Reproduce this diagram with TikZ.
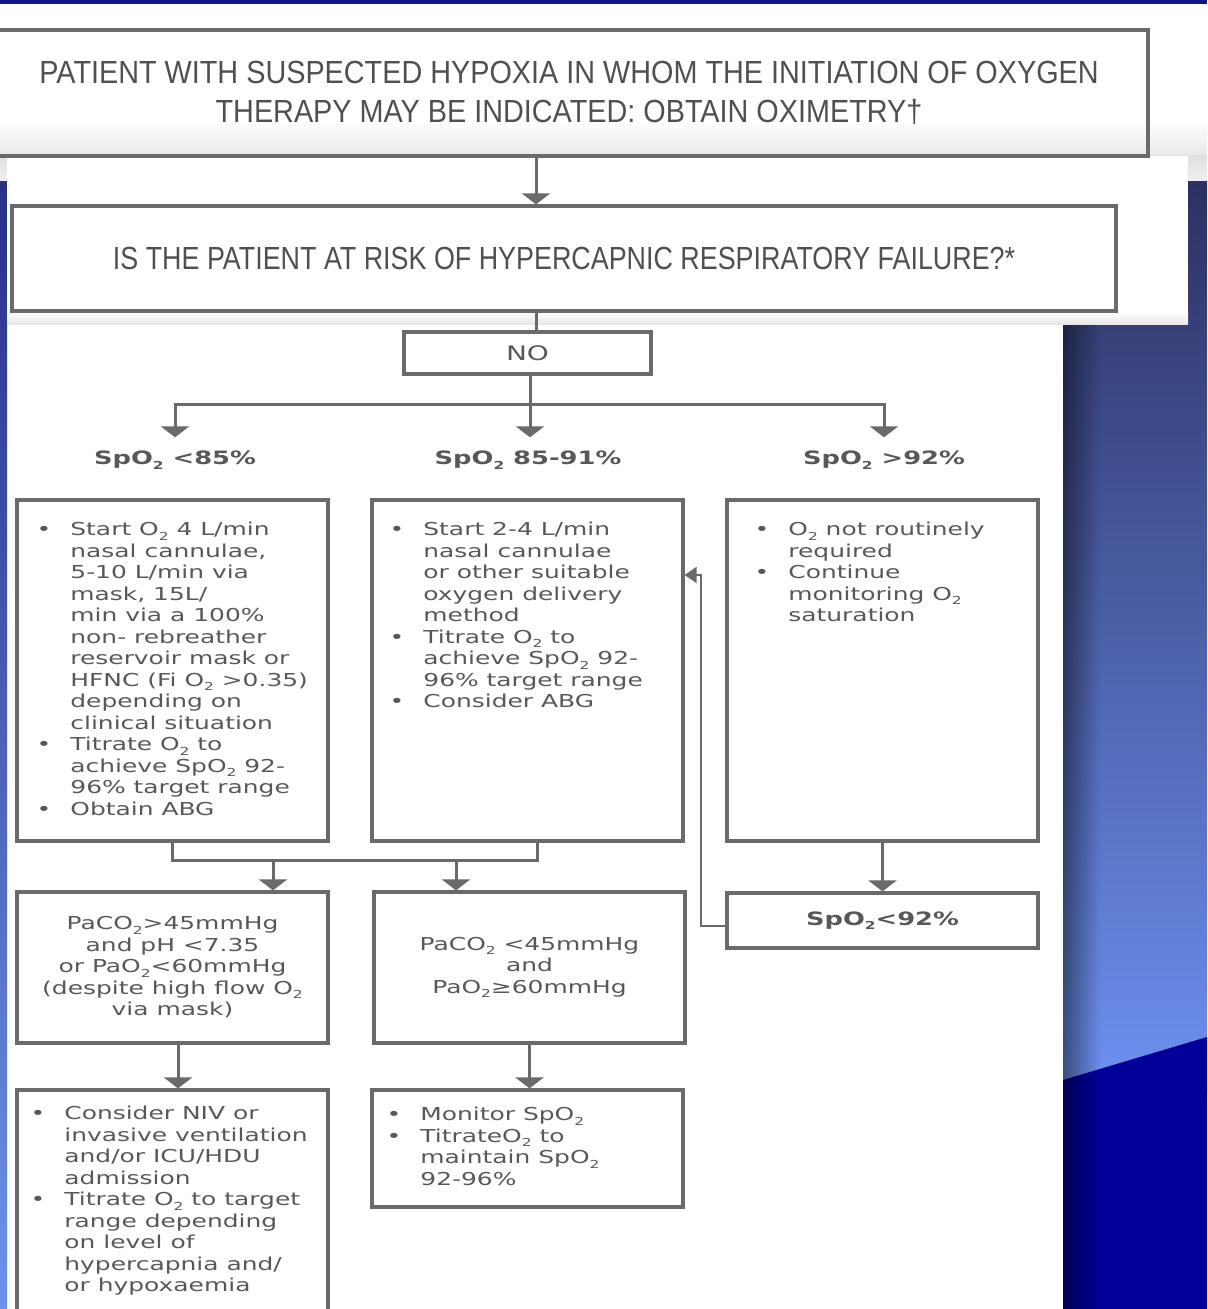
\documentclass[tikz,border=0pt]{standalone}
\usepackage{fontspec}
\setmainfont{DejaVu Sans}[FakeStretch=1.4]
\newfontfamily\titlefont{Liberation Sans}[FakeStretch=0.9]
\newfontfamily\askfont{Liberation Sans}[FakeStretch=0.84]
\usepackage{xcolor}
\usetikzlibrary{arrows.meta,fadings}

\definecolor{linegray}{HTML}{6A6A6A}
\definecolor{textgray}{HTML}{585858}
\definecolor{titlegray}{HTML}{505050}
\definecolor{barblue}{HTML}{15158A}
\definecolor{stripA}{HTML}{283088}
\definecolor{stripB}{HTML}{6E92EC}
\definecolor{rightA}{HTML}{2C3162}
\definecolor{rightM}{HTML}{4659BC}
\definecolor{rightB}{HTML}{6D90F0}
\definecolor{deepblue}{HTML}{000098}

\newcommand{\boxfont}{\fontsize{8.9}{10.75}\selectfont}
\newcommand{\lblfont}{\fontsize{9.2}{11}\selectfont\bfseries}
\newcommand{\headfont}{\titlefont\fontsize{16}{19.5}\selectfont}
\newcommand{\askheadfont}{\askfont\fontsize{16}{19.5}\selectfont}
\newcommand{\bul}{\llap{\textbullet\hspace{9.5pt}}}
\newcommand{\two}{\raisebox{-0.45ex}{\fontsize{5.5}{6}\selectfont 2}}

\begin{document}
\begin{tikzpicture}[x=0.5pt,y=-0.5pt,
    box/.style={draw=linegray, line width=1.6pt, inner sep=0pt, align=center, text=textgray, font=\boxfont},
    txt/.style={inner sep=0pt, align=left, text=textgray, font=\boxfont},
    lbl/.style={inner sep=0pt, outer ysep=7pt, text=textgray, font=\lblfont},
    line/.style={draw=linegray, line width=1.5pt},
    arr/.style={line, -{Triangle[width=14pt,length=5.5pt]}},
    back/.style={draw=linegray, line width=1pt, -{Triangle[width=8pt,length=6pt]}}]

            % slide background
            \useasboundingbox (0,0) rectangle (1207,1309);
            \clip (0,0) rectangle (1207,1309);
            \fill[white] (0,0) rectangle (1207,1309);
            \fill[barblue] (0,0) rectangle (1207,4);
            \shade[top color=white, bottom color=black!9] (0,120) rectangle (1207,156);
            \shade[top color=black!12, bottom color=black!6] (0,156) rectangle (1207,182);
            \shade[top color=stripA, bottom color=stripB] (0,182) rectangle (7,1309);
            \shade[top color=rightA, middle color=rightM, bottom color=rightB] (1063,182) rectangle (1207,1090);
            \fill[deepblue] (1063,1080) -- (1207,1037) -- (1207,1309) -- (1063,1309) -- cycle;
            \fill[black, fill opacity=0.45, path fading=east] (1063,182) rectangle (1100,1309);
            \fill[white] (7,156) rectangle (1188,312);
            \shade[top color=white, bottom color=black!10] (7,312) rectangle (1188,325);

            % boxes
            \draw (569,93) node[box, minimum width=579pt, minimum height=63pt, font=\headfont, text=titlegray] (top)
                {PATIENT WITH SUSPECTED HYPOXIA IN WHOM THE INITIATION OF OXYGEN\\THERAPY MAY BE INDICATED: OBTAIN OXIMETRY†};
            \draw (564,258.5) node[box, minimum width=552pt, minimum height=52.5pt, font=\askheadfont, text=titlegray] (q)
                {IS THE PATIENT AT RISK OF HYPERCAPNIC RESPIRATORY FAILURE?*};
            \draw (527.5,353) node[box, minimum width=123.5pt, minimum height=21pt, font=\fontsize{10}{12}\selectfont] (no) {NO};

            \draw (175,465) node[lbl, anchor=base] (l1) {SpO\two{} <85\%};
            \draw (528,465) node[lbl, anchor=base] (l2) {SpO\two{} 85-91\%};
            \draw (884,465) node[lbl, anchor=base] (l3) {SpO\two{} >92\%};

            \draw (172.5,670.5) node[box, minimum width=155.5pt, minimum height=170.5pt] (a1) {};
            \draw (527.5,670.5) node[box, minimum width=155.5pt, minimum height=170.5pt] (b1) {};
            \draw (882.5,670.5) node[box, minimum width=155.5pt, minimum height=170.5pt] (c1) {};

            \draw (70,522) node[txt, anchor=north west] (a1t)
                {\bul Start O\two{} 4 L/min\\nasal cannulae,\\5-10 L/min via\\mask, 15L/\\min via a 100\%\\non- rebreather\\reservoir mask or\\HFNC (Fi O\two{} >0.35)\\depending on\\clinical situation\\\bul Titrate O\two{} to\\achieve SpO\two{} 92-\\96\% target range\\\bul Obtain ABG};
            \draw (423,522) node[txt, anchor=north west] (b1t)
                {\bul Start 2-4 L/min\\nasal cannulae\\or other suitable\\oxygen delivery\\method\\\bul Titrate O\two{} to\\achieve SpO\two{} 92-\\96\% target range\\\bul Consider ABG};
            \draw (788,522) node[txt, anchor=north west] (c1t)
                {\bul O\two{} not routinely\\required\\\bul Continue\\monitoring O\two{}\\saturation};

            \draw (172.5,967.5) node[box, minimum width=155.5pt, minimum height=75.5pt] (a2)
                {PaCO\two{}>45mmHg\\and pH <7.35\\or PaO\two{}<60mmHg\\(despite high flow O\two{}\\via mask)};
            \draw (529.5,967.5) node[box, minimum width=155.5pt, minimum height=75.5pt] (b2)
                {PaCO\two{} <45mmHg\\and\\PaO\two{}≥60mmHg};
            \draw (882.5,920.5) node[box, minimum width=155.5pt, minimum height=27.5pt, font=\lblfont] (c2)
                {SpO\two{}<92\%};

            \draw (172.5,1210) node[box, minimum width=155.5pt, minimum height=120pt] (a3) {};
            \draw (527.5,1148.5) node[box, minimum width=155.5pt, minimum height=58.5pt] (b3) {};
            \draw (64,1106) node[txt, anchor=north west] (a3t)
                {\bul Consider NIV or\\invasive ventilation\\and/or ICU/HDU\\admission\\\bul Titrate O\two{} to target\\range depending\\on level of\\hypercapnia and/\\or hypoxaemia};
            \draw (420,1107) node[txt, anchor=north west] (b3t)
                {\bul Monitor SpO\two{}\\\bul TitrateO\two{} to\\maintain SpO\two{}\\92-96\%};

            % connectors
            \coordinate (f) at (530,405);
            \coordinate (mL) at (172.5,860);
            \coordinate (mR) at (537,860);
            \coordinate (fb) at (701,926);
            \draw[arr] (536,0 |- top.south) -- (536,0 |- q.north);
            \draw[line] (536,0 |- q.south) -- (536,0 |- no.north);
            \draw[arr] (no.south -| f) -- (f) -- (l2.north -| f);
            \draw[arr] (f) -| (l1.north);
            \draw[arr] (f) -| (l3.north);
            \draw[line] (a1.south) -- (mL) -- (mR) -- (mR |- b1.south);
            \draw[arr] (273,0 |- mL) -- (273,0 |- a2.north);
            \draw[arr] (456,0 |- mR) -- (456,0 |- b2.north);
            \draw[arr] (c1.south) -- (c2.north);
            \draw[arr] (178,0 |- a2.south) -- (178,0 |- a3.north);
            \draw[arr] (b2.south) -- (b2.south |- b3.north);
            \draw[back] (c2.west |- fb) -- (fb) -- (fb |- 0,575) -- (b1.east |- 0,575);

            \end{tikzpicture}
\end{document}
